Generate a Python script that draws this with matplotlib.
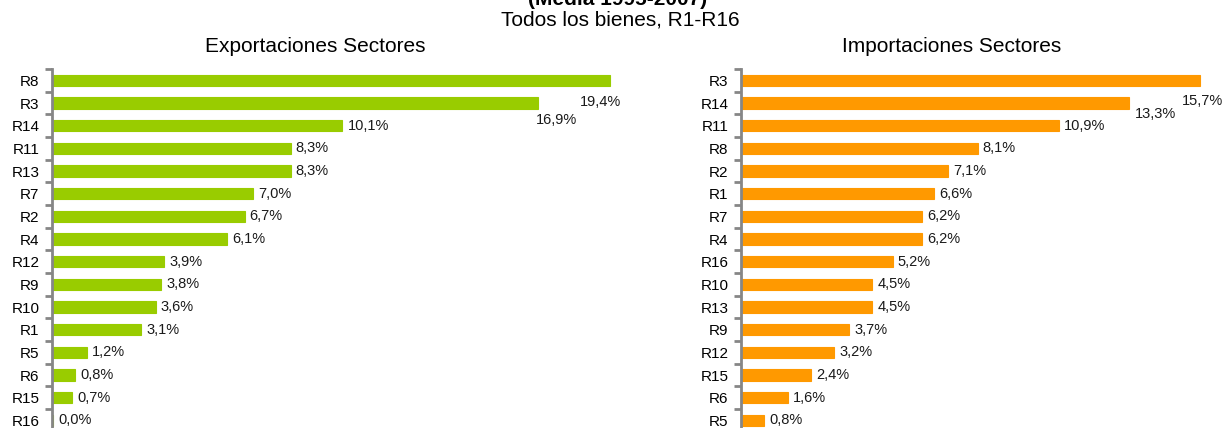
import matplotlib.pyplot as plt
from matplotlib.ticker import FixedLocator

plt.rcParams['font.family'] = ['Liberation Sans', 'DejaVu Sans']

# Exportaciones (top to bottom)
exp_sectors = ['R8', 'R3', 'R14', 'R11', 'R13', 'R7', 'R2', 'R4',
               'R12', 'R9', 'R10', 'R1', 'R5', 'R6', 'R15', 'R16']
exp_values = [19.4, 16.9, 10.1, 8.3, 8.3, 7.0, 6.7, 6.1,
              3.9, 3.8, 3.6, 3.1, 1.2, 0.8, 0.7, 0.04]

# Importaciones (top to bottom)
imp_sectors = ['R3', 'R14', 'R11', 'R8', 'R2', 'R1', 'R7', 'R4',
               'R16', 'R10', 'R13', 'R9', 'R12', 'R15', 'R6', 'R5']
imp_values = [15.7, 13.3, 10.9, 8.1, 7.1, 6.6, 6.2, 6.2,
              5.2, 4.5, 4.5, 3.7, 3.2, 2.4, 1.6, 0.8]

W, H = 1224, 428
fig = plt.figure(figsize=(W / 100, H / 100), dpi=100)

axis_gray = '#868686'


def draw(ax, sectors, values, color, xmax, shifts):
    n = len(sectors)
    ypos = list(range(n))
    ax.barh(ypos, values, height=0.5, color=color, edgecolor=color,
            linewidth=0.8, zorder=1)
    ax.set_ylim(n - 0.5, -0.5)
    ax.set_xlim(0, xmax)
    ax.set_yticks(ypos)
    ax.set_yticklabels(sectors, fontsize=11)
    ax.yaxis.set_minor_locator(FixedLocator([i - 0.5 for i in range(n + 1)]))
    ax.tick_params(axis='y', which='major', length=0, pad=9)
    ax.tick_params(axis='y', which='minor', length=5, width=2, color=axis_gray)
    ax.xaxis.set_visible(False)
    for s in ['top', 'right', 'bottom']:
        ax.spines[s].set_visible(False)
    ax.spines['left'].set_color(axis_gray)
    ax.spines['left'].set_linewidth(2)
    ax.spines['left'].set_zorder(3)
    for i, v in enumerate(values):
        dx, dy = shifts.get(i, (5, 0))
        lab = ('%.1f%%' % round(v, 1)).replace('.', ',')
        ax.annotate(lab, xy=(v, i), xytext=(dx, dy), textcoords='offset pixels',
                    ha='left', va='center', fontsize=10.5, color='#1a1a1a')


ax1 = fig.add_axes([52 / W, (H - 431.7) / H, 588 / W, 362.7 / H])
draw(ax1, exp_sectors, exp_values, '#99CC00', 20.45, {0: (-30, -22), 1: (-2, -17)})

ax2 = fig.add_axes([741 / W, (H - 431.7) / H, 474 / W, 362.7 / H])
draw(ax2, imp_sectors, imp_values, '#FF9900', 16.23, {0: (-18, -21), 1: (5, -11)})

fig.text(618 / W, 1 - 5 / H, '(Media 1995-2007)', ha='center', va='baseline',
         fontsize=15, fontweight='bold')
fig.text(620 / W, 1 - 26 / H, 'Todos los bienes, R1-R16', ha='center',
         va='baseline', fontsize=15)
fig.text(315 / W, 1 - 52 / H, 'Exportaciones Sectores', ha='center',
         va='baseline', fontsize=15)
fig.text(952 / W, 1 - 52 / H, 'Importaciones Sectores', ha='center',
         va='baseline', fontsize=15)

fig.savefig('out.png', dpi=100)
